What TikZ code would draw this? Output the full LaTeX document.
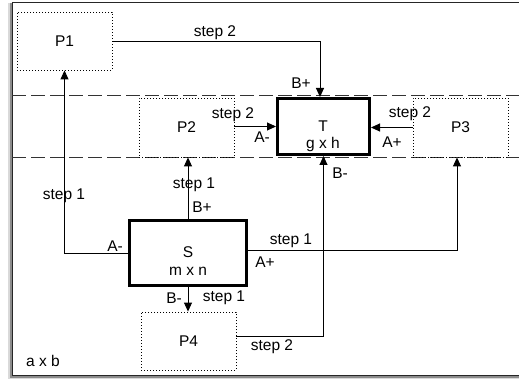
\documentclass[tikz,border=0pt]{standalone}
\usepackage{fontspec}
\setmainfont{Liberation Sans}
\usetikzlibrary{arrows.meta}
\begin{document}
\begin{tikzpicture}[x=1pt,y=-1pt,
  every node/.style={font=\fontsize{15.5}{18}\selectfont, inner sep=0pt},
  pbox/.style={draw, line width=0.9pt, dash pattern=on 1pt off 2pt, minimum width=95pt, minimum height=58pt},
  tbox/.style={draw, fill=white, line width=3pt, minimum width=92pt, minimum height=56pt},
  conn/.style={line width=0.9pt},
  arr/.style={conn, -{Triangle[length=9pt,width=8pt]}},
  band/.style={line width=1pt, dash pattern=on 14pt off 5pt, black!80}]
\fill[white] (0,0) rectangle (519,379);
\useasboundingbox (0,0) rectangle (519,379);
% frame with shadow
\draw[line width=3pt, black!15] (9.5,3) -- (9.5,377.5) -- (525,377.5);
\draw[line width=2pt, black!45] (11,3) -- (11,376.5) -- (525,376.5);
\draw[fill=white, draw=black!85, line width=1pt] (12,3) rectangle (525,375);
% dashed bands
\coordinate (b1l) at (12,96); \coordinate (b1r) at (519,96);
\coordinate (b2l) at (12,158); \coordinate (b2r) at (519,158);
\draw[band] (b1l) -- (b1r);
\draw[band] (b2l) -- (b2r);
% boxes
\node[pbox] (P1) at (64.5,41) {P1};
\node[pbox, minimum height=59pt] (P2) at (186.5,127.5) {P2};
\node[pbox, minimum height=59pt] (P3) at (460.5,127.5) {P3};
\node[pbox] (P4) at (188.5,341) {P4};
\node[tbox] (T) at (323.5,126.5) {};
\node[tbox, minimum width=117pt, minimum height=65pt] (S) at (188,253) {};
\node (Tt) at (323,126) {T};
\node (Tg) at (323,144) {g x h};
\node (St) at (188,252) {S};
\node (Sm) at (188,271) {m x n};
\node (ab) at (43,361) {a x b};
% connectors
\draw[arr] (P1.east) -| ([xshift=-3.5pt]T.north);
\draw[arr] (S.west) -| (P1.south);
\draw[arr] (S.north) -- (S.north |- P2.south);
\draw[arr] ([yshift=1pt]P2.east) -- ([yshift=1pt]P2.east -| T.west);
\draw[arr] (P3.west) -- (P3.west -| T.east);
\draw[arr] ([yshift=3pt]S.east) -| ([xshift=-3.5pt]P3.south);
\draw[arr] (S.south) -- (S.south |- P4.north);
\draw[arr] ([yshift=5pt]P4.east) -| (T.south);
% labels
\node (l1) at (215,33) {step 2};
\node (l2) at (301,83) {B+};
\node (l3) at (64,196) {step 1};
\node (l4) at (115,246) {A-};
\node (l5) at (194,185) {step 1};
\node (l6) at (202,207) {B+};
\node (l7) at (233,115) {step 2};
\node (l8) at (262,137) {A-};
\node (l9) at (410,114) {step 2};
\node (l10) at (392,142) {A+};
\node (l11) at (340,173) {B-};
\node (l12) at (291,241) {step 1};
\node (l13) at (265,262) {A+};
\node (l14) at (174,298) {B-};
\node (l15) at (224,298) {step 1};
\node (l16) at (272,347) {step 2};
\end{tikzpicture}
\end{document}
